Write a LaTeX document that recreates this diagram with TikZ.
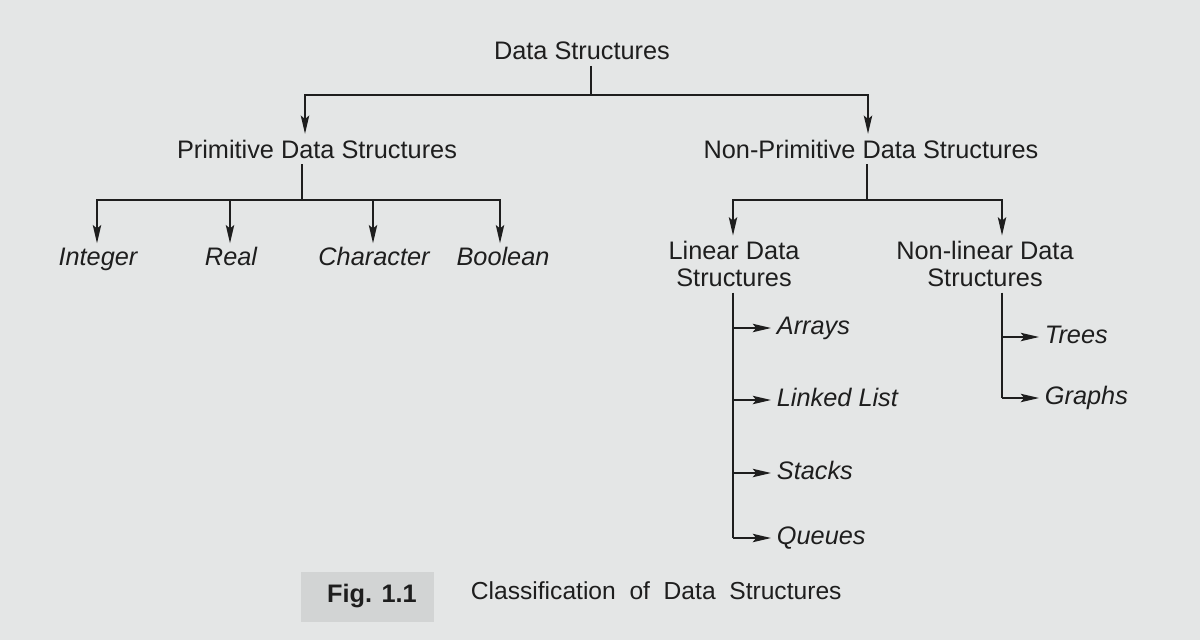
\documentclass[tikz,border=0pt]{standalone}
\usepackage{fontspec}
\setmainfont{Liberation Sans}
\usetikzlibrary{arrows.meta}
\definecolor{paper}{HTML}{E4E6E6}
\definecolor{figbox}{HTML}{D2D4D4}
\definecolor{ink}{HTML}{1E1E1E}
\tikzset{
  lbl/.style={text=ink, font=\fontsize{18}{19}\selectfont, align=center, inner sep=4pt},
  leaf/.style={lbl, font=\fontsize{18}{19}\selectfont\itshape, text height=13pt, text depth=4pt},
  conn/.style={draw=ink, line width=1pt},
  arr/.style={conn, -{Stealth[length=13pt,width=6pt,inset=2.5pt]}},
}
\begin{document}
\begin{tikzpicture}[x=0.025cm, y=-0.025cm]
\fill[paper] (0,0) rectangle (1200,640);
\useasboundingbox (0,0) rectangle (1200,640);

% root
\node[lbl] (ds) at (582,51) {Data Structures};
\coordinate (j0) at (591,95);
\coordinate (jl) at (305,95);
\coordinate (jr) at (868,95);

\node[lbl] (prim) at (317,149) {Primitive Data Structures};
\node[lbl] (nprim) at (871,149) {Non-Primitive Data Structures};

\draw[conn] (j0 |- ds.south) -- (j0);
\draw[arr] (j0) -- (jl) -- (jl |- prim.north);
\draw[arr] (j0) -- (jr) -- (jr |- nprim.north);

% primitive children
\node[leaf, inner ysep=2.5pt] (int) at (98,259) {Integer};
\node[leaf, inner ysep=2.5pt] (real) at (231,259) {Real};
\node[leaf, inner ysep=2.5pt] (char) at (374,259) {Character};
\node[leaf, inner ysep=2.5pt] (bool) at (503,259) {Boolean};
\coordinate (p0) at (302,200);
\coordinate (pa) at (97,200);
\coordinate (pb) at (230,200);
\coordinate (pc) at (373,200);
\coordinate (pd) at (500,200);
\draw[conn] (p0 |- prim.south) -- (p0);
\draw[arr] (p0) -- (pa) -- (pa |- int.north);
\draw[arr] (pb) -- (pb |- real.north);
\draw[arr] (pc) -- (pc |- char.north);
\draw[arr] (p0) -- (pd) -- (pd |- bool.north);

% non-primitive children
\node[lbl] (lin) at (734,264) {Linear Data\\Structures};
\node[lbl] (nlin) at (985,264) {Non-linear Data\\Structures};
\coordinate (n0) at (867,200);
\coordinate (na) at (733,200);
\coordinate (nb) at (1002,200);
\draw[conn] (n0 |- nprim.south) -- (n0);
\draw[arr] (n0) -- (na) -- (na |- lin.north);
\draw[arr] (n0) -- (nb) -- (nb |- nlin.north);

% linear list
\node[leaf, anchor=west] (arrays) at (771,328) {Arrays};
\node[leaf, anchor=west] (llist) at (771,400) {Linked List};
\node[leaf, anchor=west] (stacks) at (771,473) {Stacks};
\node[leaf, anchor=west] (queues) at (771,538) {Queues};
\coordinate (la) at (733,328);
\coordinate (lb) at (733,400);
\coordinate (lc) at (733,473);
\coordinate (ld) at (733,538);
\draw[conn] (ld |- lin.south) -- (ld);
\draw[arr] (la) -- (arrays.west);
\draw[arr] (lb) -- (llist.west);
\draw[arr] (lc) -- (stacks.west);
\draw[arr] (ld) -- (queues.west);

% non-linear list
\node[leaf, anchor=west] (trees) at (1039,337) {Trees};
\node[leaf, anchor=west] (graphs) at (1039,398) {Graphs};
\coordinate (ta) at (1002,337);
\coordinate (tb) at (1002,398);
\draw[conn] (tb |- nlin.south) -- (tb);
\draw[arr] (ta) -- (trees.west);
\draw[arr] (tb) -- (graphs.west);

% caption
\node[fill=figbox, minimum width=133*0.025cm, minimum height=50*0.025cm, inner sep=0pt] (figbox) at (367.5,597) {};
\node[text=ink, font=\fontsize{18}{19}\selectfont\bfseries] (fig) at (372,596) {Fig. 1.1};
\node[lbl, anchor=west, font=\fontsize{17.5}{19}\selectfont] (cap) at (465,591) {Classification~ of~ Data~ Structures};
\end{tikzpicture}
\end{document}
